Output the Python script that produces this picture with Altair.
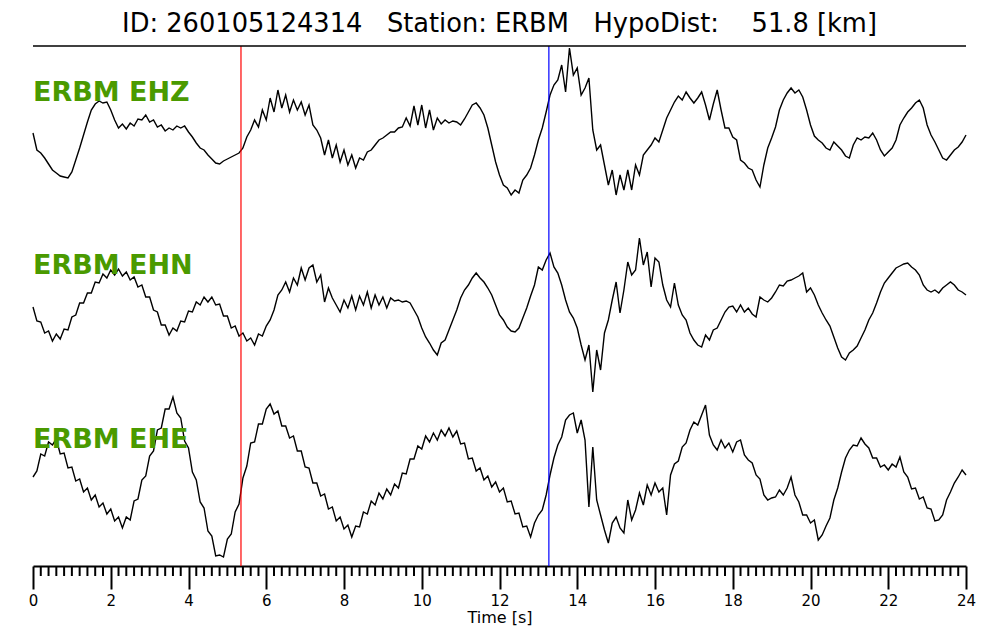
import altair as alt
import pandas as pd

TITLE = "ID: 260105124314\u00a0\u00a0\u00a0Station: ERBM\u00a0\u00a0\u00a0HypoDist:\u00a0\u00a0\u00a0\u00a051.8 [km]"
channels = ["ERBM EHZ", "ERBM EHN", "ERBM EHE"]
dt = 0.1

ehz = [7, -10, -13, -18, -24, -30, -33, -36, -37, -38,
       -32, -20, -8, 5, 18, 30, 36, 39, 37, 38,
       30, 20, 12, 16, 11, 17, 14, 21, 20, 25,
       18, 20, 13, 15, 9, 12, 10, 14, 12, 14,
       8, 3, -3, -8, -10, -15, -19, -23, -24, -21,
       -19, -17, -15, -13, -8, 3, 10, 20, 13, 30,
       20, 42, 28, 50, 32, 45, 28, 40, 30, 38,
       25, 35, 15, 10, 2, -15, 0, -18, -5, -22,
       -10, -25, -15, -28, -18, -20, -12, -10, -5, 0,
       2, 5, 8, 8, 12, 13, 22, 14, 34, 15,
       35, 12, 30, 10, 22, 16, 20, 17, 19, 18,
       15, 21, 28, 35, 37, 32, 25, 12, -5, -22,
       -35, -45, -48, -55, -50, -53, -40, -35, -28, -15,
       0, 12, 28, 45, 55, 60, 75, 48, 92, 65,
       72, 45, 52, 62, 10, -10, -5, -25, -45, -30,
       -55, -35, -50, -30, -50, -25, -35, -15, -10, -5,
       2, -2, 10, 22, 30, 38, 44, 40, 48, 42,
       37, 42, 48, 35, 20, 36, 50, 30, 12, 12,
       3, 0, -20, -23, -28, -30, -40, -47, -25, -8,
       2, 13, 30, 40, 47, 52, 47, 50, 43, 30,
       15, 4, 0, -3, -8, -10, -2, -6, -10, -16,
       -18, -5, 2, 0, 3, 2, 7, 0, -10, -16,
       -12, -8, 0, 15, 22, 28, 32, 37, 40, 32,
       15, 5, -2, -10, -18, -20, -15, -10, -7, -2,
       5]

ehn = [-7, -21, -22, -33, -31, -41, -34, -39, -29, -30,
       -17, -15, -3, -3, 7, 7, 18, 17, 26, 22,
       30, 25, 31, 24, 28, 20, 23, 13, 15, 3,
       3, -10, -12, -25, -25, -35, -28, -31, -21, -22,
       -11, -12, -2, -5, 3, -2, 3, -5, -4, -16,
       -16, -28, -26, -36, -33, -41, -38, -45, -34, -36,
       -26, -20, -10, 5, 10, 18, 8, 22, 15, 32,
       20, 32, 35, 18, 25, -2, 12, 2, -5, -12,
       0, -8, 4, -10, 4, -5, 8, -8, 5, -5,
       3, -8, 2, -1, 0, -2, -1, -3, -10, -17,
       -28, -37, -43, -50, -55, -43, -40, -30, -20, -10,
       2, 10, 15, 22, 27, 22, 18, 12, 5, -5,
       -15, -20, -27, -31, -32, -28, -18, -8, 4, 15,
       33, 30, 40, 47, 33, 27, 15, 0, -12, -18,
       -28, -45, -60, -45, -92, -50, -70, -33, -20, 0,
       18, -13, 10, 38, 25, 30, 62, 35, 48, 13,
       42, 38, 15, 0, -7, 17, -5, -15, -20, -33,
       -40, -45, -47, -35, -40, -30, -28, -20, -12, -7,
       -6, -12, -5, -12, -8, -14, -17, 3, 0, -2,
       2, 8, 15, 14, 19, 20, 22, 24, 27, 8,
       12, 5, -5, -13, -20, -26, -37, -48, -57, -60,
       -53, -50, -46, -38, -30, -20, -13, -3, 8, 17,
       22, 27, 32, 34, 36, 37, 33, 30, 25, 15,
       10, 8, 10, 7, 12, 15, 18, 15, 10, 8,
       5]

ehe = [3, 9, 26, 24, 38, 35, 41, 26, 27, 12,
       13, -1, 1, -12, -8, -20, -15, -27, -23, -34,
       -29, -41, -37, -48, -37, -40, -21, -19, 0, 4,
       24, 29, 50, 52, 71, 71, 83, 67, 62, 39,
       32, 8, 0, -22, -28, -51, -56, -76, -75, -77,
       -59, -54, -32, -24, 2, 14, 37, 38, 56, 56,
       71, 76, 66, 69, 54, 54, 42, 44, 29, 29,
       13, 12, -3, -3, -16, -14, -29, -27, -41, -37,
       -49, -45, -57, -46, -47, -32, -34, -21, -25, -13,
       -19, -9, -15, -4, -8, 7, 6, 21, 21, 34,
       31, 44, 38, 47, 40, 50, 44, 52, 43, 49,
       36, 37, 21, 22, 9, 12, 0, 4, -7, -2,
       -12, -8, -22, -21, -34, -33, -47, -46, -57, -43,
       -35, -30, -15, 5, 22, 35, 43, 60, 65, 67,
       47, 60, 40, -27, 33, -20, -35, -50, -63, -43,
       -37, -48, -53, -20, -40, -30, -13, -25, -5, -15,
       -3, -12, -8, -35, 5, 16, 19, 33, 37, 50,
       58, 55, 65, 75, 45, 35, 30, 40, 32, 37,
       28, 38, 40, 25, 20, 17, 5, 1, -15, -20,
       -18, -17, -10, -15, -8, 3, -15, -22, -35, -35,
       -43, -40, -60, -55, -46, -38, -20, -8, 8, 22,
       30, 35, 34, 42, 36, 32, 22, 22, 13, 15,
       10, 16, 13, 23, 8, 3, -9, -8, -19, -17,
       -28, -29, -41, -40, -35, -20, -12, -3, 3, 10,
       5]

pick_times = [5.35, 13.27]
pick_colors = ["#ff0000", "#0000ff"]
major_ticks = list(range(0, 25, 2))
minor_ticks = [round(i * 0.2, 1) for i in range(121) if i % 10 != 0]

# layout constants
W, H = 933, 520
trace_offsets = [426, 266, 86]
label_y = [55, 228, 402]
GREEN = "#4a9a00"
FONT = "DejaVu Sans"

rows = []
for ch, vals, off in zip(channels, [ehz, ehn, ehe], trace_offsets):
    for i, v in enumerate(vals):
        rows.append({"t": round(i * dt, 2), "y": v + off, "channel": ch})
df = pd.DataFrame(rows)

xs = alt.Scale(domain=[0, 24], nice=False, zero=False)
ys = alt.Scale(domain=[0, H], nice=False, zero=False)
xaxis = alt.Axis(values=major_ticks, format="d", title="Time [s]", grid=False,
                 labelFontSize=15, labelFont=FONT, labelColor="black", labelPadding=4,
                 labelFlush=False, tickSize=23, tickWidth=2, tickColor="black",
                 domainColor="black", domainWidth=2, titleFontSize=16, titleFont=FONT,
                 titleFontWeight="normal", titleColor="black", titlePadding=1)

traces = alt.Chart(df).mark_line(color="black", strokeWidth=1.4, clip=False).encode(
    x=alt.X("t:Q", scale=xs, axis=xaxis),
    y=alt.Y("y:Q", scale=ys, axis=None),
    detail="channel:N",
    order="t:Q",
)

minor = alt.Chart(pd.DataFrame({"t": minor_ticks})).mark_rule(color="black", strokeWidth=2).encode(
    x=alt.X("t:Q", scale=xs, axis=xaxis),
    y=alt.value(H),
    y2=alt.value(H + 10),
)

picks = alt.Chart(pd.DataFrame({"t": pick_times, "c": pick_colors})).mark_rule(strokeWidth=1.2).encode(
    x=alt.X("t:Q", scale=xs, axis=xaxis),
    color=alt.Color("c:N", scale=None),
)

topline = alt.Chart(pd.DataFrame({"a": [0]})).mark_rule(color="black", strokeWidth=1.5).encode(
    x=alt.value(0), x2=alt.value(W), y=alt.value(0)
)

labels = []
for ch, ly in zip(channels, label_y):
    labels.append(
        alt.Chart(pd.DataFrame({"name": [ch]})).mark_text(
            align="left", baseline="alphabetic", fontSize=27, fontWeight="bold",
            color=GREEN, font=FONT
        ).encode(x=alt.value(0), y=alt.value(ly), text="name:N")
    )

chart = alt.layer(traces, picks, minor, topline, *labels).properties(
    width=W, height=H,
    title=alt.TitleParams(TITLE, fontSize=25.7, font=FONT, fontWeight="normal",
                          anchor="middle", offset=8, color="black"),
    autosize=alt.AutoSizeParams(type="none"),
    padding={"left": 25, "top": 38, "right": 26, "bottom": 66},
).configure(font=FONT).configure_view(strokeWidth=0, stroke="transparent")

chart.save("out.html", embed_options={"renderer": "svg", "actions": False})
